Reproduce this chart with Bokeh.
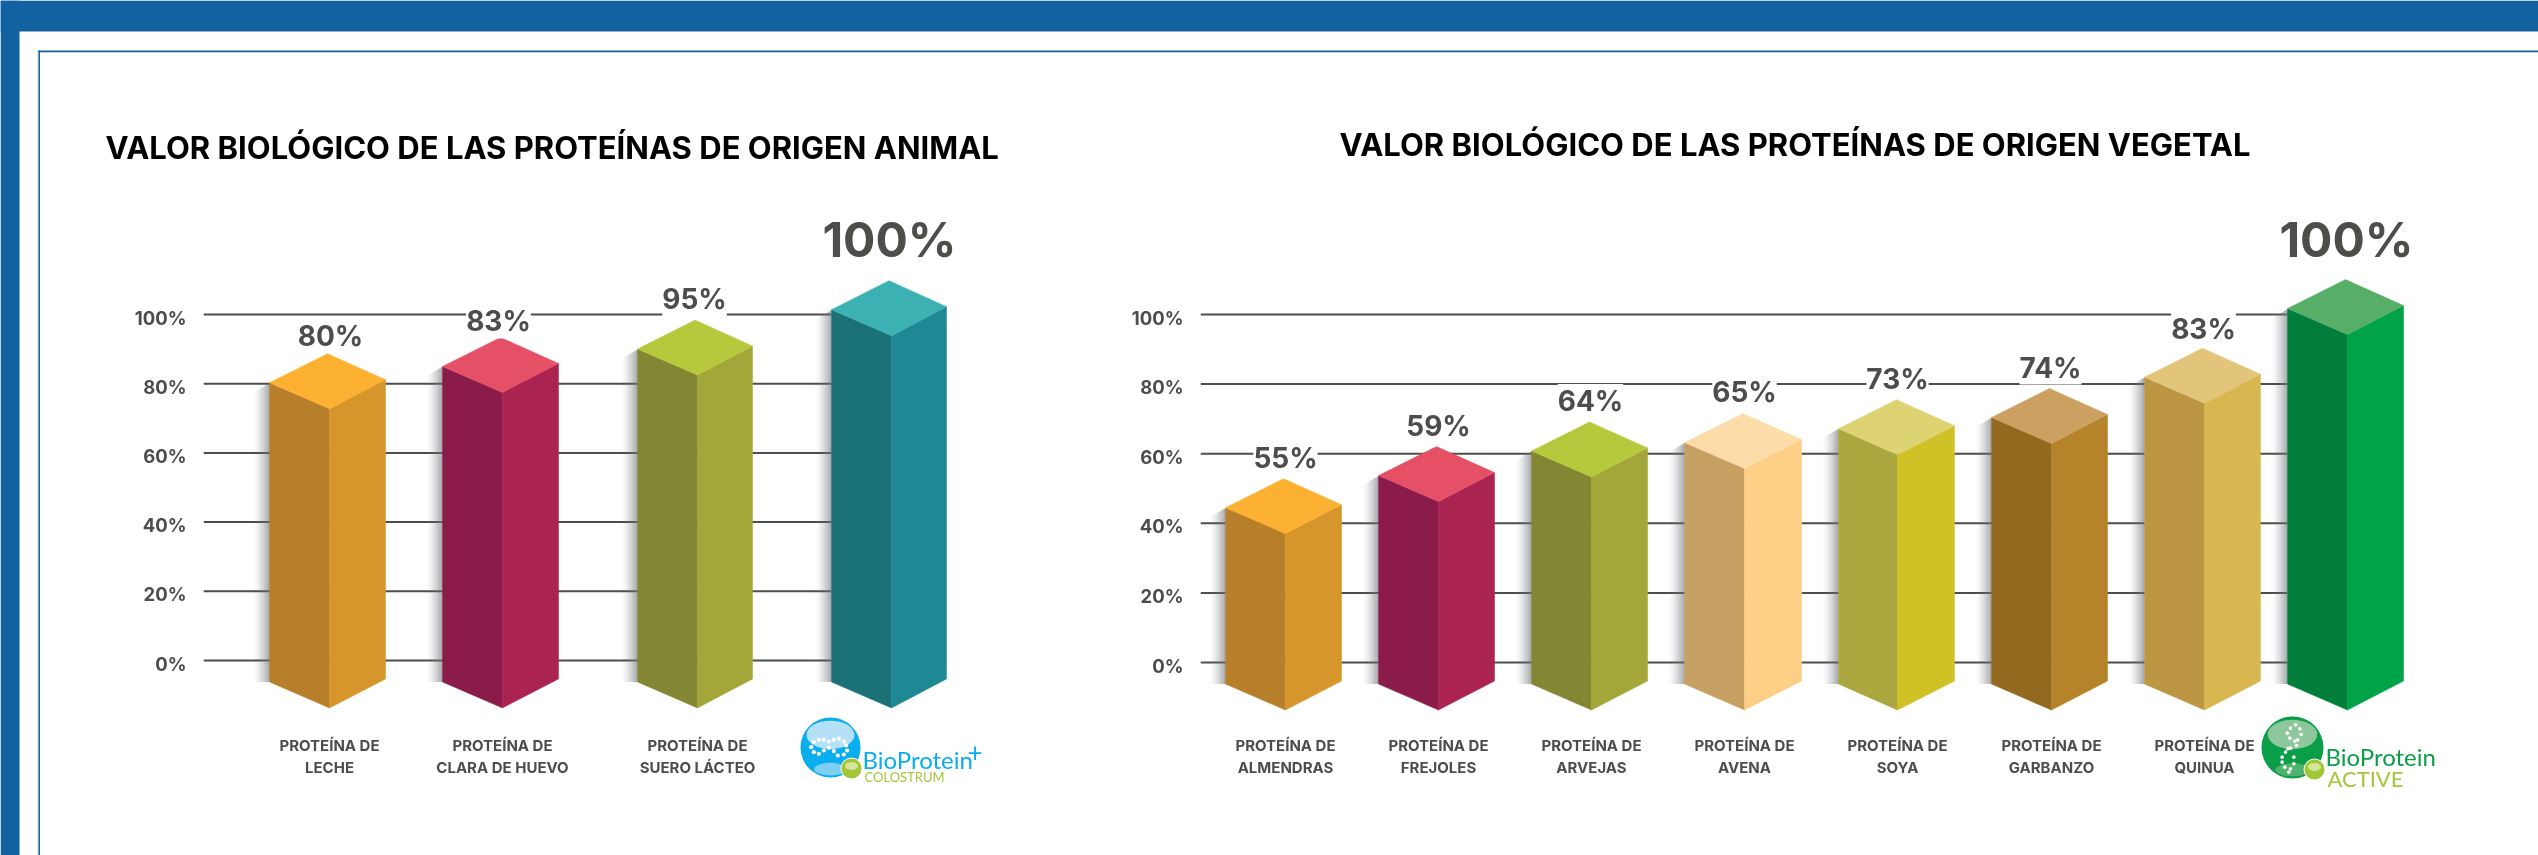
from bokeh.plotting import figure
from bokeh.layouts import column
from bokeh.models import ColumnDataSource, Range1d, LinearAxis, FixedTicker, PrintfTickFormatter
from bokeh.core.properties import value
from bokeh.embed import file_html
from bokeh.resources import INLINE

# ---------- data ----------
animal_title = "VALOR BIOLÓGICO DE LAS PROTEÍNAS DE ORIGEN ANIMAL"
animal_categories = ["PROTEÍNA DE\nLECHE", "PROTEÍNA DE\nCLARA DE HUEVO", "PROTEÍNA DE\nSUERO LÁCTEO", ""]
animal_labels = ["80%", "83%", "95%", "100%"]
animal_bar_tops = [80.3, 85.0, 90.0, 101.4]

vegetal_title = "VALOR BIOLÓGICO DE LAS PROTEÍNAS DE ORIGEN VEGETAL"
vegetal_categories = ["PROTEÍNA DE\nALMENDRAS", "PROTEÍNA DE\nFREJOLES", "PROTEÍNA DE\nARVEJAS", "PROTEÍNA DE\nAVENA",
                      "PROTEÍNA DE\nSOYA", "PROTEÍNA DE\nGARBANZO", "PROTEÍNA DE\nQUINUA", ""]
vegetal_labels = ["55%", "59%", "64%", "65%", "73%", "74%", "83%", "100%"]
vegetal_bar_tops = [44.5, 53.7, 60.8, 63.2, 67.2, 70.4, 82.0, 101.7]

axis_ticks = [0, 20, 40, 60, 80, 100]
bar_bottom = -6.2

# ---------- styles ----------
INK = "#4d4e49"
BLUE = "#1261a0"
FONT = "Inter"
LOGO_FONT = "Lato"
ORANGE = ("#fdb133", "#b87f2a", "#d6962b")
CRIMSON = ("#e55066", "#8b1c4a", "#aa2351")
OLIVE = ("#b6c93d", "#838632", "#a3a638")
animal_colors = [ORANGE, CRIMSON, OLIVE, ("#3bb1b4", "#1a7276", "#1e8995")]
vegetal_colors = [ORANGE, CRIMSON, OLIVE, ("#fddcaa", "#c6a062", "#fdcf87"), ("#ddd373", "#aba63e", "#cfc126"),
                  ("#cba060", "#93691f", "#b5832a"), ("#e2c57a", "#bc9642", "#d8b650"), ("#56ae67", "#017f3a", "#00a347")]

# x layout in page pixels: left edge, front edge, right edge of each bar
animal_geom = [(269, 329, 385), (442, 502, 558), (637, 697, 752), (831, 891, 946)]
vegetal_geom = [(1225, 1285, 1341), (1378, 1438, 1494), (1531, 1591, 1647), (1684, 1744, 1801),
                (1838, 1897, 1954), (1991, 2051, 2107), (2144, 2204, 2260), (2287, 2347, 2403)]
animal_label_x = [330, 498, 694, 889]
animal_label_off = [18, 16, 21, 41]
vegetal_label_x = [1285, 1438, 1590, 1744, 1897, 2050, 2203, 2346]
vegetal_label_off = [21, 21, 21, 22, 21, 21, 19, 40]


def chart(title, cats, labels, tops, colors, geom, label_x, label_off,
          fig_left, fig_width, frame_left, zero_px, px_per_unit, title_offset, title_gap, line_end, tick_right):
    frame_top, frame_bottom = 175, 725
    y_hi = (zero_px - frame_top) / px_per_unit
    y_lo = (zero_px - frame_bottom) / px_per_unit
    shift = 3 / px_per_unit
    p = figure(width=fig_width, height=855, output_backend="svg", toolbar_location=None,
               x_range=Range1d(frame_left, fig_left + fig_width), y_range=Range1d(y_lo, y_hi),
               x_axis_type=None, y_axis_type=None, frame_align=False,
               min_border_left=frame_left - fig_left, min_border_right=0,
               min_border_top=frame_top, min_border_bottom=855 - frame_bottom,
               background_fill_color=None, border_fill_color=None, outline_line_color=None,
               styles={"position": "fixed", "left": f"{fig_left}px", "top": "0px"})
    p.grid.visible = False

    # title
    p.title.text = title
    p.title.text_font = FONT
    p.title.text_font_style = "bold"
    p.title.text_font_size = "31px"
    p.title.text_color = "#000000"
    p.title.align = "left"
    p.title.offset = title_offset
    p.title.standoff = title_gap

    # value axis (labels sit slightly below their rules, as in the original)
    p.extra_y_ranges["ticks"] = Range1d(y_lo + shift, y_hi + shift)
    yaxis = LinearAxis(y_range_name="ticks", ticker=FixedTicker(ticks=axis_ticks),
                       formatter=PrintfTickFormatter(format="%d%%"),
                       axis_line_color=None, major_tick_line_color=None, minor_tick_line_color=None,
                       major_label_text_font=FONT, major_label_text_font_style="bold",
                       major_label_text_font_size="18.5px", major_label_text_color=INK,
                       major_label_standoff=frame_left - tick_right)
    p.add_layout(yaxis, "left")

    # category axis
    centers = [g[1] for g in geom]
    xaxis = LinearAxis(ticker=FixedTicker(ticks=centers[:-1]),
                       major_label_overrides={c: t for c, t in zip(centers[:-1], cats[:-1])},
                       axis_line_color=None, major_tick_line_color=None, minor_tick_line_color=None,
                       major_label_text_font=FONT, major_label_text_font_style="bold",
                       major_label_text_font_size="15px", major_label_text_color=INK,
                       major_label_standoff=4)
    p.add_layout(xaxis, "below")

    # rules
    p.segment(x0=[frame_left] * len(axis_ticks), x1=[line_end] * len(axis_ticks),
              y0=axis_ticks, y1=axis_ticks, line_color=INK, line_width=2)

    depth = 26 / px_per_unit
    rise = 29 / px_per_unit
    tail = 3 / px_per_unit

    # soft shadow to the left of each bar
    steps = 8
    for (l, m, r), top in zip(geom, tops):
        for s in range(steps):
            x1 = l - s * 2
            x0 = x1 - 2
            drop = (s + 1) * 1.1 / px_per_unit
            p.quad(left=x0, right=x1, top=top - drop, bottom=bar_bottom,
                   fill_color="#70737a", fill_alpha=0.62 * (1 - s / steps) ** 1.6, line_color=None)

    # the three faces of each bar
    left_x, left_y, right_x, right_y, top_x, top_y, lc, rc, tc = [], [], [], [], [], [], [], [], []
    for (l, m, r), top, col in zip(geom, tops, colors):
        apex_x = (l + r) / 2
        left_x.append([l, m, m, l])
        left_y.append([top, top - depth, bar_bottom - depth, bar_bottom])
        right_x.append([m, r, r, m])
        right_y.append([top - depth, top + tail, bar_bottom + tail, bar_bottom - depth])
        top_x.append([l, apex_x, r, m])
        top_y.append([top, top + rise, top + tail, top - depth])
        tc.append(col[0]); lc.append(col[1]); rc.append(col[2])
    p.patches(left_x, left_y, fill_color=lc, line_color=lc, line_width=0.5)
    p.patches(right_x, right_y, fill_color=rc, line_color=rc, line_width=0.5)
    p.patches(top_x, top_y, fill_color=tc, line_color=tc, line_width=0.5)

    # value labels
    src = ColumnDataSource(dict(
        x=label_x, y=[t + rise for t in tops], text=labels,
        off=[-o for o in label_off],
        size=["48px" if t == "100%" else "28px" for t in labels]))
    p.text(x="x", y="y", text="text", source=src, y_offset="off", text_font=value(FONT),
           text_font_style="bold", text_font_size="size", text_color=INK,
           text_align="center", text_baseline="middle",
           background_fill_color="#ffffff", padding=0)
    return p


# ---------- page furniture ----------
bg = figure(width=2538, height=855, output_backend="svg", toolbar_location=None,
            x_range=Range1d(0, 2538), y_range=Range1d(855, 0), x_axis_type=None, y_axis_type=None,
            frame_align=False,
            min_border=0, min_border_left=0, min_border_right=0, min_border_top=0, min_border_bottom=0,
            background_fill_color="#ffffff", border_fill_color="#ffffff", outline_line_color=None,
            styles={"position": "fixed", "left": "0px", "top": "0px"})
bg.grid.visible = False
bg.quad(left=[0, 0], right=[2538, 19], top=[0, 0], bottom=[31, 855], fill_color=BLUE, line_color=None)
bg.quad(left=[37, 38], right=[38, 2538], top=[50, 51.5], bottom=[855, 52.5], fill_color="#c5cfd8", line_color=None)
bg.quad(left=[38, 38], right=[2538, 39.5], top=[50, 50], bottom=[51.5, 855], fill_color=BLUE, line_color=None)

LIME = "#a4c739"
CYAN = "#0aaeef"
GREEN = "#0a9e48"


def logo(cx, cy, r, base, hi, lo, dots, word, word_x, word_y, word_size, sub, sub_x, sub_y, sub_size, ball):
    bg.circle(x=[cx], y=[cy], radius=r, fill_color=base, line_color=None)
    bg.ellipse(x=[cx], y=[cy - r * 0.42], width=r * 1.6, height=r * 0.95, fill_color=hi, line_color=None)
    bg.ellipse(x=[cx], y=[cy + r * 0.72], width=r * 1.1, height=r * 0.42, fill_color=lo, line_color=None)
    bg.circle(x=[d[0] for d in dots], y=[d[1] for d in dots], radius=[d[2] for d in dots],
              fill_color="#ffffff", line_color=None)
    bg.circle(x=[ball[0]], y=[ball[1]], radius=10.5, fill_color=LIME, line_color="#ffffff", line_width=1)
    bg.ellipse(x=[ball[0]], y=[ball[1] - 2.5], width=13, height=8, fill_color="#d3e69a", line_color=None)
    bg.text(x=[word_x], y=[word_y], text=[word], text_font=value(LOGO_FONT),
            text_font_size=word_size, text_color=base, text_baseline="alphabetic")
    bg.text(x=[sub_x], y=[sub_y], text=[sub], text_font=value(LOGO_FONT),
            text_font_size=sub_size, text_color=LIME, text_baseline="alphabetic")


chain_z = [(92, 200), (100, 185), (115, 178), (130, 178), (145, 183), (160, 178), (175, 175), (190, 183), (197, 195),
           (200, 210), (190, 222), (172, 225), (160, 212), (145, 202), (130, 210), (115, 220), (100, 215)]
logo(830, 747, 30, CYAN, "#b4e1f7", "#7dd0f3",
     [(780 + x / 3, 680 + y / 3, 2.1) for x, y in chain_z],
     "BioProtein", 862, 759, "24px", "COLOSTRUM", 864, 776, "13px", (851, 768))
bg.text(x=[967], y=[751], text=["+"], text_font=value(LOGO_FONT), text_font_size="26px",
        text_color=CYAN, text_baseline="alphabetic")

dna_z = [(165, 103), (150, 113), (140, 128), (148, 143), (163, 152), (168, 165), (150, 173), (135, 185), (125, 200),
         (125, 215), (133, 230), (145, 245), (178, 115), (182, 132), (172, 148), (142, 175), (160, 200), (160, 220),
         (150, 235)]
logo(2292, 747, 31, GREEN, "#8fc79c", "#4fb36e",
     [(2240 + x / 3, 690 + y / 3, 1.8) for x, y in dna_z],
     "BioProtein", 2325, 756, "24px", "ACTIVE", 2327, 778, "22px", (2314, 769))

# ---------- charts ----------
pa = chart(animal_title, animal_categories, animal_labels, animal_bar_tops, animal_colors, animal_geom,
           animal_label_x, animal_label_off, 0, 1040, 203, 660, 3.46, -98, 19, 831, 192)
pb = chart(vegetal_title, vegetal_categories, vegetal_labels, vegetal_bar_tops, vegetal_colors, vegetal_geom,
           vegetal_label_x, vegetal_label_off, 1040, 1498, 1200, 662, 3.48, 139, 25, 2287, 1189)

root = column(bg, pa, pb)
open("out.html", "w").write(file_html(root, INLINE))
